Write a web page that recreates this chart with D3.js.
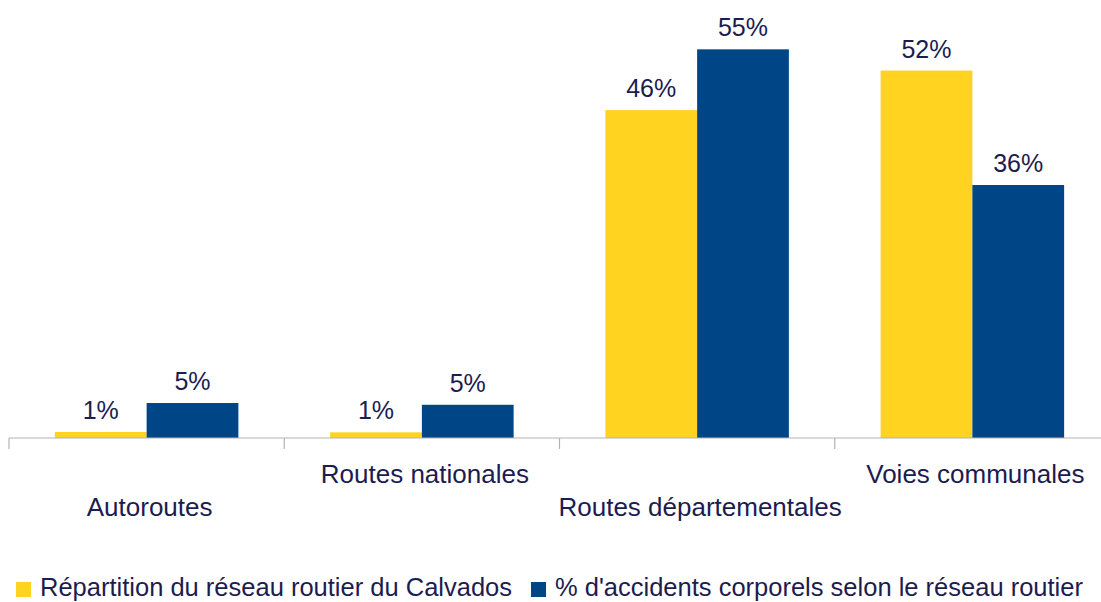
<!DOCTYPE html>
<head>
    <meta charset="utf-8">
    <title>Réseau routier du Calvados</title>
    <style>
        body { margin: 0; background: #fff; }
        text { font-family: "Liberation Sans", Arial, sans-serif; fill: #1c1c50; }
    </style>
</head>
<body>
<svg width="1101" height="602"></svg>

<script src="https://d3js.org/d3.v7.min.js"></script>
<script>

    // data
    var categories = ["Autoroutes", "Routes nationales", "Routes départementales", "Voies communales"];
    var seriesNames = ["Répartition du réseau routier du Calvados", "% d'accidents corporels selon le réseau routier"];
    var reseau = [0.85, 0.8, 46.4, 52.0];      // yellow
    var accidents = [4.95, 4.7, 55.0, 35.8];   // blue
    var colors = ["#ffd320", "#004586"];

    var svg = d3.select("svg");

    // scales
    var x0 = d3.scaleBand()
        .domain(categories)
        .range([9, 1110])
        .padding(0);
    var x1 = d3.scaleBand()
        .domain([0, 1])
        .range([0, x0.bandwidth()])
        .paddingInner(0)
        .paddingOuter(0.5);
    var y = d3.scaleLinear()
        .domain([0, 60])
        .range([438, 14]);

    var rows = categories.map((c, i) => ({cat: c, vals: [reseau[i], accidents[i]]}));

    // bars
    var groups = svg.append("g").selectAll("g")
        .data(rows)
        .enter().append("g")
            .attr("transform", d => "translate(" + x0(d.cat) + ",0)");

    groups.selectAll("rect")
        .data(d => d.vals.map((v, k) => ({k: k, v: v})))
        .enter().append("rect")
            .attr("x", d => x1(d.k))
            .attr("width", x1.bandwidth())
            .attr("y", d => y(d.v))
            .attr("height", d => y(0) - y(d.v))
            .attr("fill", d => colors[d.k]);

    // value labels
    groups.selectAll("text")
        .data(d => d.vals.map((v, k) => ({k: k, v: v})))
        .enter().append("text")
            .attr("x", d => x1(d.k) + x1.bandwidth() / 2)
            .attr("y", d => y(d.v) - 13)
            .attr("text-anchor", "middle")
            .attr("font-size", "25px")
            .text(d => Math.round(d.v) + "%");

    // x axis (line + ticks between categories)
    var axis = svg.append("g").attr("transform", "translate(0," + y(0) + ")");
    axis.append("line")
        .attr("x1", x0.range()[0]).attr("x2", 1101)
        .attr("stroke", "#b3b3b3").attr("stroke-width", 1.2);
    axis.selectAll(".tick")
        .data(categories)
        .enter().append("line")
            .attr("class", "tick")
            .attr("x1", d => x0(d)).attr("x2", d => x0(d))
            .attr("y1", 0).attr("y2", 11)
            .attr("stroke", "#b3b3b3").attr("stroke-width", 1.2);

    // category labels, staggered like the original
    axis.selectAll(".cat")
        .data(categories)
        .enter().append("text")
            .attr("class", "cat")
            .attr("x", d => x0(d) + x0.bandwidth() / 2 + 3)
            .attr("y", (d, i) => i % 2 ? 45 : 78)
            .attr("text-anchor", "middle")
            .attr("font-size", "26px")
            .text(d => d);

    // legend
    var legend = svg.append("g").attr("transform", "translate(16,596)");
    var lx = 0;
    seriesNames.forEach((name, k) => {
        var item = legend.append("g").attr("transform", "translate(" + lx + ",0)");
        item.append("rect")
            .attr("x", 0).attr("y", -14)
            .attr("width", 15).attr("height", 15)
            .attr("fill", colors[k]);
        var t = item.append("text")
            .attr("x", 24).attr("y", 0)
            .attr("font-size", "25.5px")
            .text(name);
        lx += 24 + t.node().getComputedTextLength() + 19;
    });

</script>
</body>
